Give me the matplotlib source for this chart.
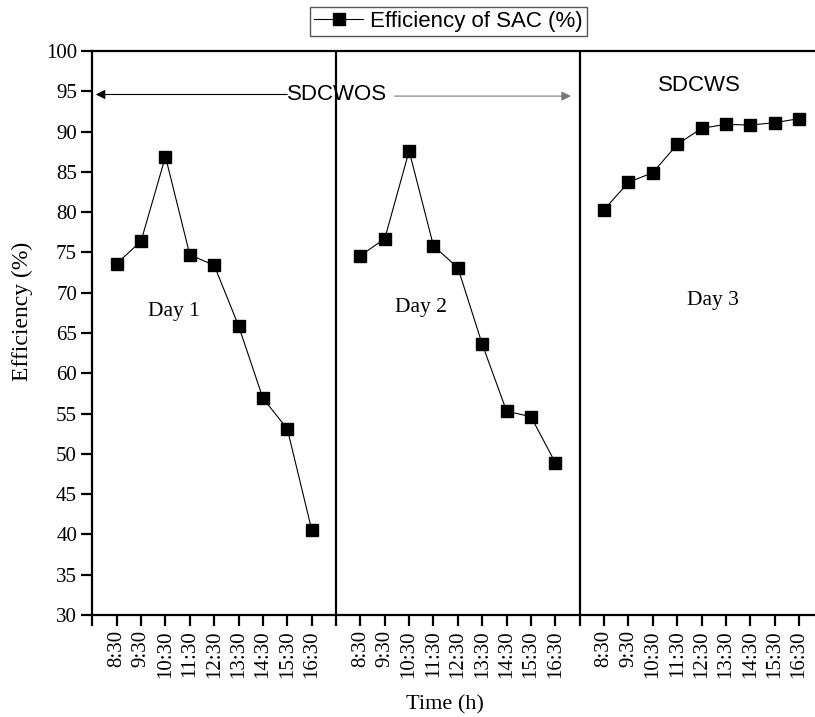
import matplotlib.pyplot as plt

serif = 'Liberation Serif'
sans = 'Liberation Sans'

times = ['8:30', '9:30', '10:30', '11:30', '12:30', '13:30', '14:30', '15:30', '16:30']
day1 = [73.6, 76.4, 86.9, 74.7, 73.4, 65.9, 56.9, 53.1, 40.6]
day2 = [74.6, 76.7, 87.6, 75.8, 73.1, 63.6, 55.3, 54.6, 48.9]
day3 = [80.3, 83.7, 84.9, 88.4, 90.4, 90.9, 90.8, 91.1, 91.6]

fig = plt.figure(figsize=(8.15, 7.17), dpi=100)
ax = fig.add_axes([0.1133, 0.1423, 0.897, 0.7866])

# one x slot per hour, an empty slot between the days
x1 = list(range(1, 10))
x2 = list(range(11, 20))
x3 = list(range(21, 30))

style = dict(color='black', lw=0.8, marker='s', ms=8, mfc='black', mec='black')
line, = ax.plot(x1, day1, **style)
ax.plot(x2, day2, **style)
ax.plot(x3, day3, **style)

for xv in (10, 20):
    ax.axvline(xv, color='black', lw=1.6)

ax.set_xlim(0, 30)
ax.set_ylim(30, 100)

ticks = list(range(0, 30))
labels = ['' if t % 10 == 0 else times[t % 10 - 1] for t in ticks]
ax.set_xticks(ticks)
ax.set_xticklabels(labels, rotation=90, fontfamily=serif, fontsize=15)
ax.set_yticks(range(30, 101, 5))
ax.set_yticklabels([str(v) for v in range(30, 101, 5)], fontfamily=serif, fontsize=15)
ax.tick_params(direction='out', length=8, width=1.6, pad=3)

for side in ('top', 'bottom', 'left', 'right'):
    ax.spines[side].set_linewidth(1.6)

ax.set_xlabel('Time (h)', fontfamily=serif, fontsize=16)
ax.xaxis.set_label_coords(0.4825, -0.142)
ax.set_ylabel('Efficiency (%)', fontfamily=serif, fontsize=17)
ax.yaxis.set_label_coords(-0.081, 0.539)

# treatment annotations
ax.text(10.06, 94.66, 'SDCWOS', fontfamily=sans, fontsize=16, ha='center', va='center')
ax.annotate('', xy=(0.14, 94.6), xytext=(8.0, 94.6),
            arrowprops=dict(arrowstyle='-|>', color='black', lw=0.8,
                            mutation_scale=14, shrinkA=0, shrinkB=0))
ax.annotate('', xy=(19.64, 94.4), xytext=(12.4, 94.4),
            arrowprops=dict(arrowstyle='-|>', color='#777777', lw=0.8,
                            mutation_scale=14, shrinkA=0, shrinkB=0))
ax.text(24.93, 95.66, 'SDCWS', fontfamily=sans, fontsize=16, ha='center', va='center')

ax.text(3.35, 67.7, 'Day 1', fontfamily=serif, fontsize=15.5, ha='center', va='center')
ax.text(13.48, 68.1, 'Day 2', fontfamily=serif, fontsize=15.5, ha='center', va='center')
ax.text(25.46, 69.0, 'Day 3', fontfamily=serif, fontsize=15.5, ha='center', va='center')

fig.legend([line], ['Efficiency of SAC (%)'], loc='center', bbox_to_anchor=(0.55, 0.97),
           prop={'family': sans, 'size': 16}, frameon=True, fancybox=False,
           edgecolor='#555555', framealpha=1, handlelength=2.2, borderpad=0.2,
           handletextpad=0.3, borderaxespad=0)

fig.savefig('out.png', dpi=100)
